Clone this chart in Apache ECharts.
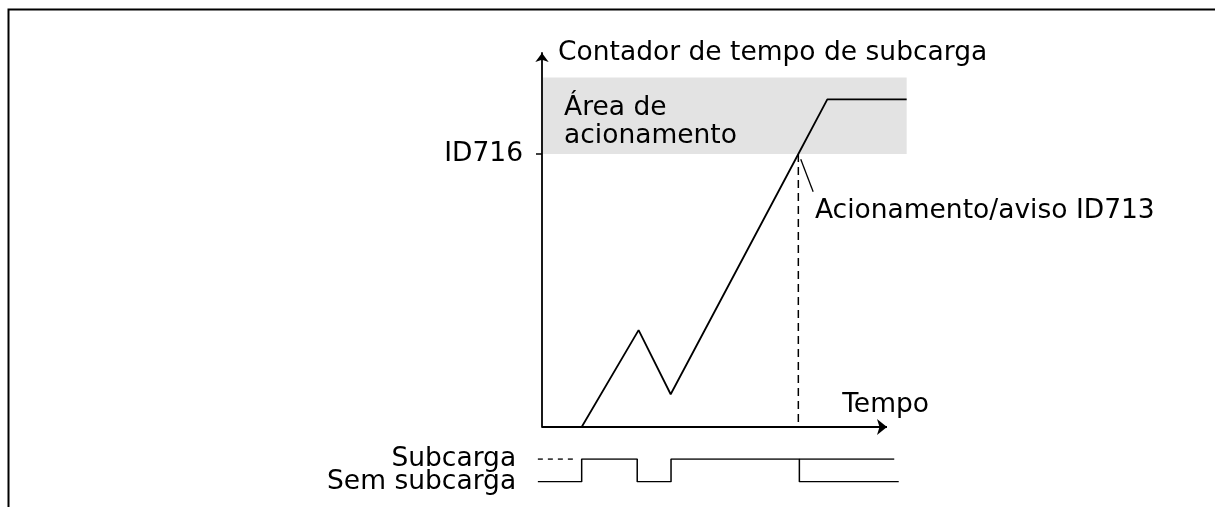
<!DOCTYPE html>
<html>
<head>
<meta charset="utf-8">
<script src="https://cdn.jsdelivr.net/npm/echarts@6/dist/echarts.min.js"></script>
<style>
  html, body { margin: 0; padding: 0; background: #fff; }
  #chart { width: 1215px; height: 507px; }
</style>
</head>
<body>
<div id="chart"></div>
<script>
// counter curve (time units, counter units; ID716 = 100)
const counterTimes = [11.5, 28, 37.3, 74.3, 82.7, 105.7]
const counterValues = [0, 35.5, 12, 100, 120, 120]
const tripLevel = 100
const tripTime = 74.3
const timeAxisEnd = 100
const tripAreaX = [0, 105.7]
const tripAreaY = [100, 128]
const pointerTimes = [75.0, 78.6]
const pointerValues = [98.1, 86.2]

// underload signal (1 = Subcarga, 0 = Sem subcarga)
const signalTimes = [-1.2, 11.5, 27.6, 37.4, 74.6, 103.4]
const signalStates = [0, 1, 0, 1, 0, 0]
const highRefTimes = [74.6, 102.1]
const dashedRefTimes = [-1.2, 10.1]
const signalLabels = ['Sem subcarga', 'Subcarga']
const signalLabelTime = -7.5

// annotations
const noteTimes = [79.1, 87]
const noteValues = [79.1, 8]
const noteTexts = ['Acionamento/aviso ID713', 'Tempo']
const areaText = 'Área de\nacionamento'

const ink = '#000'
const font = 'DejaVu Sans'
const fs = 26.5
const lw = 1.8
const pxPerTime = 3.45

const chart = echarts.init(document.getElementById('chart'))

const textItem = (align) => (params, api) => {
  const p = api.coord([api.value(0), api.value(1)])
  return {
    type: 'text', x: p[0], y: p[1],
    style: { text: api.value(2), fill: ink, fontSize: fs, fontFamily: font, align: align, verticalAlign: 'middle' }
  }
}

const option = {
  animation: false,
  textStyle: { fontFamily: font, color: ink },
  graphic: [{
    type: 'polyline',
    shape: { points: [[8.5, 507], [8.5, 9.5], [1215, 9.5]] },
    style: { stroke: ink, lineWidth: 2, fill: null }
  }],
  grid: [
    { left: 542, top: 53, width: tripAreaX[1] * pxPerTime, height: 374 },
    { left: 542 + signalTimes[0] * pxPerTime, top: 459, width: (signalTimes[signalTimes.length - 1] - signalTimes[0]) * pxPerTime, height: 22.7 }
  ],
  xAxis: [{
    gridIndex: 0, type: 'value', min: 0, max: tripAreaX[1],
    axisLine: { show: false }, axisTick: { show: false }, axisLabel: { show: false }, splitLine: { show: false }
  }, {
    gridIndex: 1, type: 'value', min: signalTimes[0], max: signalTimes[signalTimes.length - 1], show: false
  }],
  yAxis: [{
    gridIndex: 0, type: 'value', min: 0, max: 137,
    name: 'Contador de tempo de subcarga',
    nameLocation: 'end', nameGap: 0,
    nameTextStyle: { fontSize: fs, color: ink, align: 'left', verticalAlign: 'middle', padding: [0, 0, 0, 16] },
    axisLine: { show: true, symbol: ['none', 'arrow'], symbolSize: [10, 9], lineStyle: { color: ink, width: lw } },
    axisTick: { show: true, customValues: [tripLevel], length: 6, lineStyle: { color: ink, width: 1.5 } },
    axisLabel: { show: true, customValues: [tripLevel], formatter: () => 'ID716', fontSize: fs, color: ink, margin: 19 },
    splitLine: { show: false }
  }, {
    gridIndex: 1, type: 'value', min: 0, max: 1, show: false
  }],
  series: [
    {
      type: 'custom', xAxisIndex: 0, yAxisIndex: 0, z: 1, clip: false,
      data: [[tripAreaX[0], tripAreaX[1], tripAreaY[0], tripAreaY[1]]],
      renderItem: (params, api) => {
        const p0 = api.coord([api.value(0), api.value(3)])
        const p1 = api.coord([api.value(1), api.value(2)])
        return {
          type: 'group',
          children: [{
            type: 'rect',
            shape: { x: p0[0] + 1, y: p0[1], width: p1[0] - p0[0] - 1, height: p1[1] - p0[1] },
            style: { fill: '#e3e3e3' }
          }, {
            type: 'text', x: p0[0] + 22, y: p0[1] + 17,
            style: { text: areaText, fill: ink, fontSize: fs, fontFamily: font, lineHeight: 28, align: 'left', verticalAlign: 'top' }
          }]
        }
      }
    },
    {
      type: 'line', xAxisIndex: 0, yAxisIndex: 0, z: 3,
      symbol: 'none', lineStyle: { color: ink, width: lw },
      data: counterTimes.map((t, i) => [t, counterValues[i]]),
      markLine: {
        silent: true, symbol: ['none', 'arrow'], symbolSize: [12, 10],
        lineStyle: { type: 'solid', color: ink, width: lw }, label: { show: false },
        data: [[{ coord: [0, 0] }, { coord: [timeAxisEnd, 0] }]]
      }
    },
    {
      type: 'line', xAxisIndex: 0, yAxisIndex: 0, z: 3,
      symbol: 'none', lineStyle: { color: ink, width: 1.5, type: [8, 5] },
      data: [[tripTime, tripLevel], [tripTime, 0]]
    },
    {
      type: 'line', xAxisIndex: 0, yAxisIndex: 0, z: 3,
      symbol: 'none', lineStyle: { color: ink, width: 1.3 },
      data: pointerTimes.map((t, i) => [t, pointerValues[i]])
    },
    {
      type: 'custom', xAxisIndex: 0, yAxisIndex: 0, z: 4, clip: false,
      dimensions: ['x', 'y', { name: 'text', type: 'ordinal' }],
      data: noteTimes.map((t, i) => [t, noteValues[i], noteTexts[i]]),
      renderItem: textItem('left')
    },
    {
      type: 'custom', xAxisIndex: 1, yAxisIndex: 1, z: 4, clip: false,
      dimensions: ['x', 'y', { name: 'text', type: 'ordinal' }],
      data: signalLabels.map((s, i) => [signalLabelTime, i, s]),
      renderItem: textItem('right')
    },
    {
      type: 'line', xAxisIndex: 1, yAxisIndex: 1, step: 'end',
      symbol: 'none', lineStyle: { color: ink, width: 1.5 },
      data: signalTimes.map((t, i) => [t, signalStates[i]])
    },
    {
      type: 'line', xAxisIndex: 1, yAxisIndex: 1,
      symbol: 'none', lineStyle: { color: ink, width: 1.5 },
      data: highRefTimes.map(t => [t, 1])
    },
    {
      type: 'line', xAxisIndex: 1, yAxisIndex: 1,
      symbol: 'none', lineStyle: { color: ink, width: 1.5, type: [5, 5] },
      data: dashedRefTimes.map(t => [t, 1])
    }
  ]
}

chart.setOption(option)
</script>
</body>
</html>
